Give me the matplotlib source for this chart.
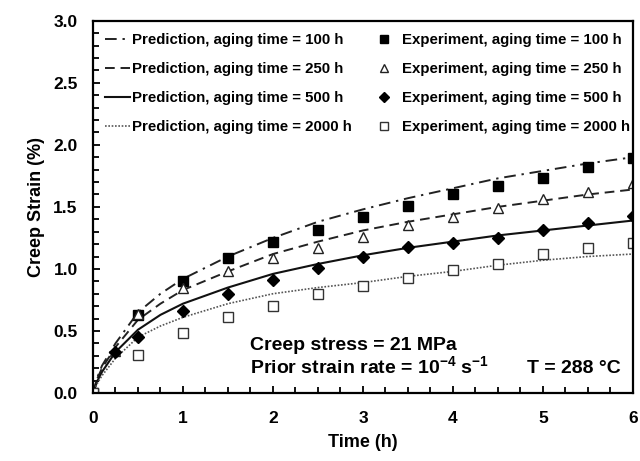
import numpy as np
import matplotlib
matplotlib.use("Agg")
import matplotlib.pyplot as plt
from matplotlib.ticker import MultipleLocator

plt.rcParams['font.family'] = ['Liberation Sans', 'DejaVu Sans']
plt.rcParams['font.weight'] = 'bold'
plt.rcParams['mathtext.fontset'] = 'custom'
plt.rcParams['mathtext.rm'] = 'Liberation Sans:bold'
plt.rcParams['mathtext.default'] = 'rm'

# prediction curves
t_pred = [0, 0.05, 0.1, 0.25, 0.5, 0.75, 1, 1.5, 2, 2.5, 3, 3.5, 4, 4.5, 5, 5.5, 6]
pred_100 = [0, 0.13, 0.22, 0.40, 0.65, 0.80, 0.92, 1.10, 1.25, 1.38, 1.48, 1.57, 1.65, 1.73, 1.79, 1.85, 1.90]
pred_250 = [0, 0.12, 0.20, 0.37, 0.59, 0.72, 0.83, 0.98, 1.12, 1.22, 1.31, 1.38, 1.44, 1.50, 1.55, 1.60, 1.64]
pred_500 = [0, 0.10, 0.17, 0.33, 0.51, 0.63, 0.72, 0.85, 0.96, 1.04, 1.11, 1.17, 1.22, 1.27, 1.31, 1.35, 1.39]
pred_2000 = [0, 0.08, 0.14, 0.28, 0.45, 0.54, 0.61, 0.72, 0.80, 0.85, 0.89, 0.94, 0.98, 1.03, 1.07, 1.10, 1.12]

# experiments
t_exp_100 = [0, 0.5, 1, 1.5, 2, 2.5, 3, 3.5, 4, 4.5, 5, 5.5, 6]
exp_100 = [0, 0.63, 0.90, 1.09, 1.22, 1.31, 1.42, 1.51, 1.60, 1.67, 1.73, 1.82, 1.89]
t_exp_250 = [0, 0.25, 0.5, 1, 1.5, 2, 2.5, 3, 3.5, 4, 4.5, 5, 5.5, 6]
exp_250 = [0, 0.34, 0.64, 0.85, 0.98, 1.09, 1.17, 1.26, 1.35, 1.42, 1.49, 1.56, 1.62, 1.69]
t_exp_500 = [0, 0.25, 0.5, 1, 1.5, 2, 2.5, 3, 3.5, 4, 4.5, 5, 5.5, 6]
exp_500 = [0, 0.33, 0.45, 0.66, 0.80, 0.91, 1.01, 1.10, 1.18, 1.21, 1.25, 1.31, 1.37, 1.43]
t_exp_2000 = [0, 0.5, 1, 1.5, 2, 2.5, 3, 3.5, 4, 4.5, 5, 5.5, 6]
exp_2000 = [0, 0.31, 0.48, 0.61, 0.70, 0.80, 0.86, 0.93, 0.99, 1.04, 1.12, 1.17, 1.21]

pred_labels = ['Prediction, aging time = 100 h', 'Prediction, aging time = 250 h',
               'Prediction, aging time = 500 h', 'Prediction, aging time = 2000 h']
exp_labels = ['Experiment, aging time = 100 h', 'Experiment, aging time = 250 h',
              'Experiment, aging time = 500 h', 'Experiment, aging time = 2000 h']

fig = plt.figure(figsize=(6.4, 4.61), dpi=100)
ax = fig.add_axes([0.1453, 0.1475, 0.989 - 0.1453, 0.955 - 0.1475])

l1, = ax.plot(t_pred, pred_100, color='#222222', lw=1.4, dashes=(6, 3, 1.2, 3))
l2, = ax.plot(t_pred, pred_250, color='#222222', lw=1.4, dashes=(5, 3))
l3, = ax.plot(t_pred, pred_500, color='#111111', lw=1.5)
l4, = ax.plot(t_pred, pred_2000, color='#555555', lw=1.2, dashes=(1, 1))

m1, = ax.plot(t_exp_100, exp_100, 's', color='black', ms=7, ls='none')
m2, = ax.plot(t_exp_250, exp_250, '^', mfc='white', mec='#222222', mew=1.0, ms=7.5, ls='none')
m3, = ax.plot(t_exp_500, exp_500, 'D', color='black', ms=6.5, ls='none')
m4, = ax.plot(t_exp_2000, exp_2000, 's', mfc='white', mec='#333333', mew=1.0, ms=7, ls='none')

ax.set_xlim(0, 6)
ax.set_ylim(0, 3)
ax.xaxis.set_major_locator(MultipleLocator(1))
ax.xaxis.set_minor_locator(MultipleLocator(0.25))
ax.yaxis.set_major_locator(MultipleLocator(0.5))
ax.yaxis.set_minor_locator(MultipleLocator(0.1))
ax.yaxis.set_major_formatter(matplotlib.ticker.FormatStrFormatter('%.1f'))
ax.tick_params(which='both', direction='in', top=False, right=False, width=1.3)
ax.tick_params(which='major', length=5, labelsize=12.5)
ax.tick_params(which='minor', length=4)
ax.tick_params(axis='x', which='major', pad=13)
ax.tick_params(axis='y', which='major', pad=11)
for s in ax.spines.values():
    s.set_linewidth(1.6)

ax.set_xlabel('Time (h)', fontsize=13, fontweight='bold', labelpad=6)
ax.set_ylabel('Creep Strain (%)', fontsize=13, fontweight='bold', labelpad=6)

leg1 = ax.legend([l1, l2, l3, l4], pred_labels,
                 loc='upper left', bbox_to_anchor=(0.022, 0.967), frameon=False,
                 prop={'size': 10.8, 'weight': 'bold'}, handlelength=1.7, handletextpad=0.1,
                 labelspacing=1.0, borderpad=0, borderaxespad=0)
ax.add_artist(leg1)
ax.legend([m1, m2, m3, m4], exp_labels,
          loc='upper left', bbox_to_anchor=(0.525, 0.967), frameon=False,
          prop={'size': 10.8, 'weight': 'bold'}, handlelength=1.0, handletextpad=0.7,
          labelspacing=1.0, borderpad=0, borderaxespad=0, markerscale=0.85)

ax.text(1.745, 0.347, 'Creep stress = 21 MPa', fontsize=14, fontweight='bold', va='baseline')
ax.text(1.745, 0.16, 'Prior strain rate = 10$^{-4}$ s$^{-1}$', fontsize=14, fontweight='bold', va='baseline')
ax.text(5.86, 0.16, 'T = 288 °C', fontsize=14, fontweight='bold', va='baseline', ha='right')

fig.savefig('out.png', dpi=100)
